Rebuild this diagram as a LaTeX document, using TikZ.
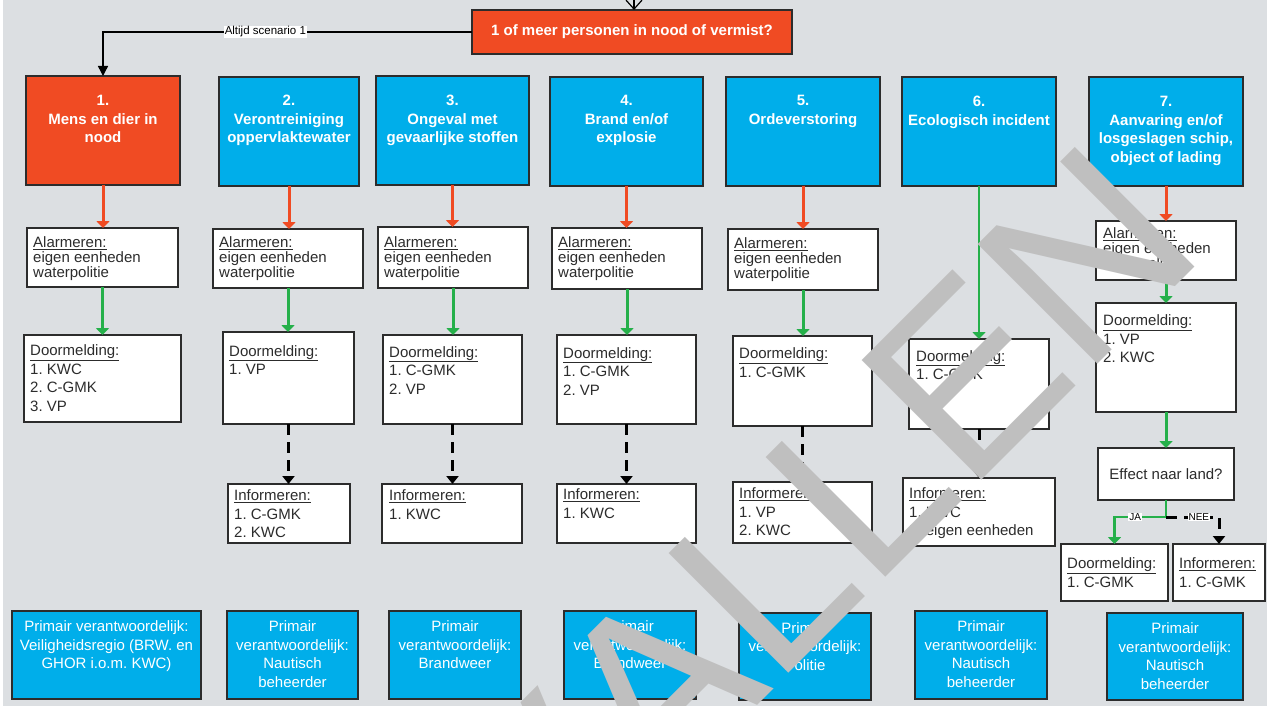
\documentclass[tikz,border=0pt]{standalone}
\usepackage{fontspec}
\setmainfont{Liberation Sans}
\newfontfamily\stampfont{Liberation Sans}
\usetikzlibrary{arrows.meta}
\frenchspacing

\definecolor{bg}{HTML}{DCDFE2}
\definecolor{redbox}{HTML}{F04B23}
\definecolor{bluebox}{HTML}{00AEEA}
\definecolor{okgreen}{HTML}{25B04A}
\definecolor{ink}{HTML}{2C2C2C}
\definecolor{stamp}{HTML}{BFBFBF}

% a box spanning (x1,y1)-(x2,y2), y pointing down
\newcommand\panel[6]{%
  \node[#2, anchor=north west, minimum width={(#5)-(#3)}, minimum height={(#6)-(#4)}] (#1) at (#3,#4) {};}

\tikzset{
  boxbase/.style={draw=ink, line width=1.1pt, inner sep=0pt, outer sep=0pt},
  catred/.style={boxbase, fill=redbox},
  catblue/.style={boxbase, fill=bluebox},
  whitebox/.style={boxbase, fill=white},
  titletext/.style={anchor=north, inner sep=0pt, align=center, text=white,
    font=\fontsize{15}{18.5}\selectfont\bfseries},
  resptext/.style={anchor=north, inner sep=0pt, align=center, text=white,
    font=\fontsize{15}{18.5}\selectfont},
  listtext/.style={anchor=north west, inner sep=0pt, align=left, text=ink,
    font=\fontsize{15}{18.5}\selectfont},
  alarmtext/.style={listtext, font=\fontsize{15}{15}\selectfont},
  redarrow/.style={draw=redbox, line width=3pt, -{Triangle[length=7pt,width=13pt]}},
  greenarrow/.style={draw=okgreen, line width=3pt, -{Triangle[length=7pt,width=13pt]}},
  dasharrow/.style={draw=black, line width=3pt, dash pattern=on 11pt off 7pt,
    -{Triangle[length=8pt,width=12pt]}},
  thinarrow/.style={draw=black, line width=1.4pt, -{Triangle[length=10pt,width=10pt]}},
  tag/.style={fill=white, inner sep=1pt, text=black},
}

\begin{document}
\begin{tikzpicture}[x=1pt, y=-1pt]
\useasboundingbox (0,0) rectangle (1267,706);
\fill[bg] (0,0) rectangle (1267,706);
\fill[white] (0,0) rectangle (3,706);

% question at the top
\node[catred, minimum width=320pt, minimum height=44pt, text=white,
  font=\fontsize{15}{18}\selectfont\bfseries] (q) at (632,32)
  {1 of meer personen in nood of vermist?};
\coordinate (src) at (634,-30);
\draw[black, line width=1.2pt, -{Straight Barb[length=9pt,width=16pt]}] (src) -- (src |- q.north);

% scenario boxes
\panel{c1}{catred}{26}{76}{180}{185}
\panel{c2}{catblue}{219}{77}{359}{186}
\panel{c3}{catblue}{376}{76}{529}{185}
\panel{c4}{catblue}{550}{77}{703}{186}
\panel{c5}{catblue}{726}{77}{880}{186}
\panel{c6}{catblue}{902}{77}{1056}{186}
\panel{c7}{catblue}{1089}{77}{1243}{186}

\node[titletext] (c1t) at (c1.north |- 0,95) {1.\\Mens en dier in\\nood};
\node[titletext] (c2t) at (c2.north |- 0,95) {2.\\Verontreiniging\\oppervlaktewater};
\node[titletext] (c3t) at (c3.north |- 0,95) {3.\\Ongeval met\\gevaarlijke stoffen};
\node[titletext] (c4t) at (c4.north |- 0,95) {4.\\Brand en/of\\explosie};
\node[titletext] (c5t) at (c5.north |- 0,95) {5.\\Ordeverstoring};
\node[titletext] (c6t) at (c6.north |- 0,96) {6.\\Ecologisch incident};
\node[titletext] (c7t) at (c7.north |- 0,96) {7.\\Aanvaring en/of\\losgeslagen schip,\\object of lading};

% alarm boxes
\panel{a1}{whitebox}{27}{228}{178}{287}
\panel{a2}{whitebox}{213}{229}{363}{288}
\panel{a3}{whitebox}{378}{227}{528}{288}
\panel{a4}{whitebox}{552}{228}{702}{289}
\panel{a5}{whitebox}{728}{229}{878}{290}
\panel{a7}{whitebox}{1096}{221}{1236}{280}

\node[alarmtext] (a1t) at (33,236.5) {\underline{Alarmeren:}\\eigen eenheden\\waterpolitie};
\node[alarmtext] (a2t) at (219,236.5) {\underline{Alarmeren:}\\eigen eenheden\\waterpolitie};
\node[alarmtext] (a3t) at (384,236.5) {\underline{Alarmeren:}\\eigen eenheden\\waterpolitie};
\node[alarmtext] (a4t) at (558,236.5) {\underline{Alarmeren:}\\eigen eenheden\\waterpolitie};
\node[alarmtext] (a5t) at (734,237.5) {\underline{Alarmeren:}\\eigen eenheden\\waterpolitie};
\node[alarmtext] (a7t) at (1103,227.5) {\underline{Alarmeren:}\\eigen eenheden\\waterpolitie};

% forwarding boxes
\panel{d1}{whitebox}{24}{335}{181}{422}
\panel{d2}{whitebox}{223}{332}{354}{424}
\panel{d3}{whitebox}{383}{335}{522}{424}
\panel{d4}{whitebox}{557}{335}{696}{424}
\panel{d5}{whitebox}{733}{336}{872}{426}
\panel{d6}{whitebox}{909}{339}{1049}{429}
\panel{d7}{whitebox}{1096}{303}{1236}{412}

\node[listtext] (d1t) at (30,344.5) {\underline{Doormelding:}\\1. KWC\\2. C-GMK\\3. VP};
\node[listtext] (d2t) at (229,345) {\underline{Doormelding:}\\1. VP};
\node[listtext] (d3t) at (389,346) {\underline{Doormelding:}\\1. C-GMK\\2. VP};
\node[listtext] (d4t) at (563,347) {\underline{Doormelding:}\\1. C-GMK\\2. VP};
\node[listtext] (d5t) at (739,347.5) {\underline{Doormelding:}\\1. C-GMK};
\node[listtext] (d6t) at (916,350) {\underline{Doormelding:}\\1. C-GMK};
\node[listtext] (d7t) at (1103,314.5) {\underline{Doormelding:}\\1. VP\\2. KWC};

% information boxes
\panel{i2}{whitebox}{228}{484}{350}{543}
\panel{i3}{whitebox}{382}{484}{522}{543}
\panel{i4}{whitebox}{557}{484}{696}{543}
\panel{i5}{whitebox}{733}{482}{872}{543}
\panel{i6}{whitebox}{903}{478}{1055}{546}

\node[listtext] (i2t) at (234,489.5) {\underline{Informeren:}\\1. C-GMK\\2. KWC};
\node[listtext] (i3t) at (389,489.5) {\underline{Informeren:}\\1. KWC};
\node[listtext] (i4t) at (563,488.5) {\underline{Informeren:}\\1. KWC};
\node[listtext] (i5t) at (739,487.5) {\underline{Informeren:}\\1. VP\\2. KWC};
\node[listtext] (i6t) at (909,487.5) {\underline{Informeren:}\\1. KWC\\2. eigen eenheden};

% branch of scenario 7
\panel{e7}{whitebox}{1098}{448}{1234}{500}
\node[text=ink, font=\fontsize{15}{18}\selectfont] (e7t) at (e7.center) {Effect naar land?};
\panel{j7}{whitebox}{1061}{544}{1168}{601}
\panel{n7}{whitebox}{1173}{544}{1265}{601}
\node[listtext] (j7t) at (1067,557.5) {\underline{Doormelding:}\\1. C-GMK};
\node[listtext] (n7t) at (1179,557.5) {\underline{Informeren:}\\1. C-GMK};
\coordinate (split) at (1166,517);

% responsibility boxes
\panel{b1}{catblue}{12}{611}{201}{699}
\panel{b2}{catblue}{227}{611}{358}{699}
\panel{b3}{catblue}{389}{611}{521}{699}
\panel{b4}{catblue}{564}{611}{696}{699}
\panel{b5}{catblue}{739}{613}{871}{700}
\panel{b6}{catblue}{915}{611}{1047}{699}
\panel{b7}{catblue}{1107}{613}{1243}{700}

\node[resptext] (b1t) at (b1.north |- 0,620.5) {Primair verantwoordelijk:\\Veiligheidsregio (BRW. en\\GHOR i.o.m. KWC)};
\node[resptext] (b2t) at (b2.north |- 0,620.5) {Primair\\verantwoordelijk:\\Nautisch\\beheerder};
\node[resptext] (b3t) at (b3.north |- 0,620.5) {Primair\\verantwoordelijk:\\Brandweer};
\node[resptext] (b4t) at (b4.north |- 0,620.5) {Primair\\verantwoordelijk:\\Brandweer};
\node[resptext] (b5t) at (b5.north |- 0,622) {Primair\\verantwoordelijk:\\Politie};
\node[resptext] (b6t) at (b6.north |- 0,620.5) {Primair\\verantwoordelijk:\\Nautisch\\beheerder};
\node[resptext] (b7t) at (b7.north |- 0,622.5) {Primair\\verantwoordelijk:\\Nautisch\\beheerder};

% connectors
\draw[thinarrow] (q.west) -| (c1.north)
  node[tag, pos=0.28, font=\fontsize{11.5}{13}\selectfont] (always) {Altijd scenario 1};

\foreach \k in {1,2,3,4,5,7} {
  \draw[redarrow] (c\k.south) -- (c\k.south |- a\k.north);
  \draw[greenarrow] (a\k.south) -- (a\k.south |- d\k.north);
}
\draw[greenarrow, line width=2.2pt] (c6.south) -- (c6.south |- d6.north);
\foreach \k in {2,3,4,5,6} {
  \draw[dasharrow] (d\k.south) -- (d\k.south |- i\k.north);
}
\draw[greenarrow] (d7.south) -- (d7.south |- e7.north);
\draw[greenarrow, line width=2.6pt] (e7.south) -- (split) -| (j7.north)
  node[tag, pos=0.3, font=\fontsize{10}{12}\selectfont] (yes) {JA};
\draw[dasharrow] (split) -| (n7.north)
  node[tag, pos=0.31, font=\fontsize{10}{12}\selectfont] (no) {NEE};

% stamp across the sheet (kerns of 0pt keep the letters at their plain advance)
\node[text=stamp, inner sep=0pt, anchor=base west, rotate=45,
  font=\fontsize{246}{246}\stampfont] (wm) at (184.5,1277.8)
  {V\kern0pt E\kern0pt R\kern0pt V\kern0pt A\kern0pt L\kern0pt L\kern0pt E\kern0pt N};
\end{tikzpicture}
\end{document}
